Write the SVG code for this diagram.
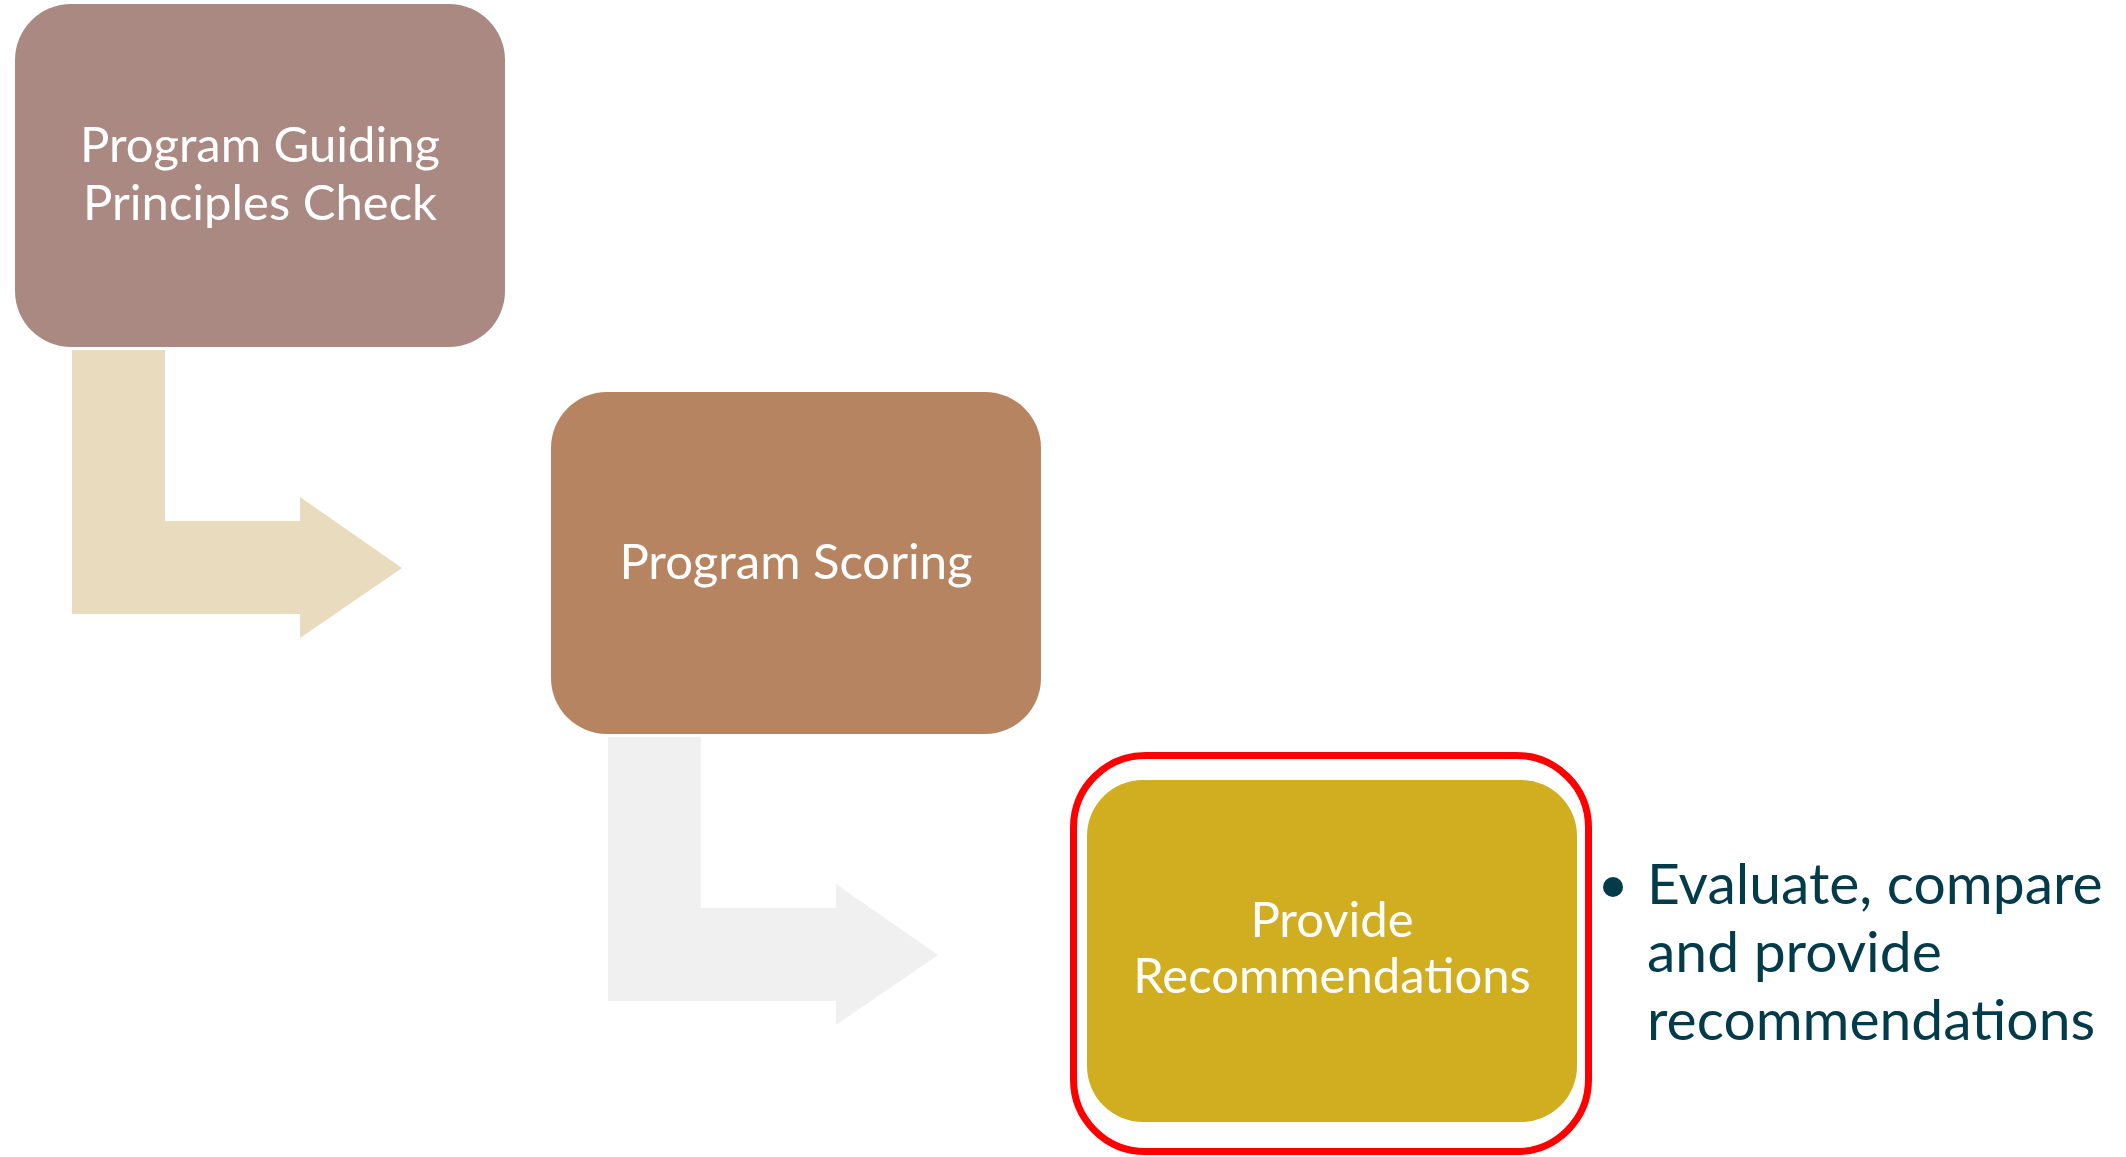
<svg xmlns="http://www.w3.org/2000/svg" width="2126" height="1157" viewBox="0 0 2126 1157">
<style>
.box{stroke:none}
.lbl{font-family:Lato,"Open Sans","Liberation Sans",sans-serif;font-size:49px;fill:#FFFFFF;text-anchor:middle}
.bul{font-family:Lato,"Open Sans","Liberation Sans",sans-serif;font-size:57px;fill:#033B4B}
</style>
<rect width="2126" height="1157" fill="#FFFFFF"/>
<g id="connectors">
<polygon points="72,350 165,350 165,521 300,521 300,497 402,568 300,638 300,614 72,614" fill="#E8DBBE"/>
<polygon points="608,737 701,737 701,908 836,908 836,884 938,955 836,1025 836,1001 608,1001" fill="#F0F0F0"/>
</g>
<g id="node1">
<rect class="box" x="15" y="4" width="490" height="343" rx="56" fill="#AA8982"/>
<text class="lbl" x="260" y="162">Program Guiding</text>
<text class="lbl" x="260" y="220">Principles Check</text>
</g>
<g id="node2">
<rect class="box" x="551" y="392" width="490" height="342" rx="56" fill="#B78462"/>
<text class="lbl" x="796" y="579">Program Scoring</text>
</g>
<g id="node3">
<rect x="1073.5" y="755.5" width="515" height="396" rx="72" fill="none" stroke="#FF0000" stroke-width="7"/>
<rect class="box" x="1087" y="780" width="490" height="342" rx="56" fill="#D0AE20"/>
<text class="lbl" x="1332" y="937">Provide</text>
<text class="lbl" x="1332" y="993">Recommendations</text>
</g>
<g id="bullet">
<circle cx="1613" cy="887" r="10" fill="#033B4B"/>
<text class="bul" x="1647" y="904">Evaluate, compare</text>
<text class="bul" x="1647" y="972">and provide</text>
<text class="bul" x="1647" y="1040">recommendations</text>
</g>
</svg>
